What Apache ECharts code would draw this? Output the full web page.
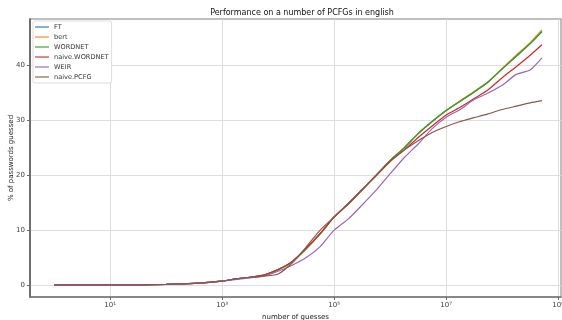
<!DOCTYPE html>
<html>
<head>
<meta charset="utf-8">
<script src="https://cdn.jsdelivr.net/npm/echarts@6/dist/echarts.min.js"></script>
<style>
  html, body { margin: 0; padding: 0; background: #fff; }
  #chart { width: 562px; height: 320px; }
</style>
</head>
<body>
<div id="chart"></div>
<script>
// x values are log10(number of guesses)
let logGuesses = [0, 0.5, 1, 1.5, 2, 2.5, 3, 3.25, 3.5, 3.75, 4, 4.25, 4.5, 4.75, 5, 5.25, 5.5, 5.75, 6, 6.25, 6.5, 6.75, 7, 7.25, 7.5, 7.75, 8, 8.25, 8.5, 8.71];

let ftValues      = [0, 0, 0, 0.02, 0.1, 0.3, 0.7, 1.1, 1.4, 1.8, 2.8, 4.2, 6.6, 9.3, 12.4, 14.8, 17.4, 20.0, 22.7, 25.0, 27.6, 29.8, 31.8, 33.5, 35.2, 37.0, 39.4, 41.7, 44.0, 46.2];
let bertValues    = [0, 0, 0, 0.02, 0.1, 0.3, 0.7, 1.1, 1.4, 1.8, 2.8, 4.2, 6.6, 9.3, 12.4, 14.8, 17.4, 20.0, 22.7, 25.0, 27.6, 29.8, 31.8, 33.6, 35.3, 37.1, 39.5, 41.9, 44.2, 46.5];
let wordnetValues = [0, 0, 0, 0.02, 0.1, 0.3, 0.7, 1.1, 1.4, 1.8, 2.8, 4.2, 6.6, 9.3, 12.4, 14.8, 17.4, 20.0, 22.7, 25.0, 27.6, 29.8, 31.8, 33.5, 35.2, 37.0, 39.4, 41.7, 44.0, 46.2];
let naiveWnValues = [0, 0, 0, 0.02, 0.1, 0.3, 0.7, 1.1, 1.4, 1.8, 2.8, 4.3, 6.7, 9.4, 12.4, 14.7, 17.3, 19.9, 22.5, 24.6, 26.9, 29.0, 31.0, 32.4, 34.0, 35.6, 37.8, 39.8, 41.9, 43.8];
let weirValues    = [0, 0, 0, 0.02, 0.1, 0.3, 0.7, 1.0, 1.3, 1.6, 2.5, 3.6, 5.0, 7.0, 10.0, 12.0, 14.6, 17.3, 20.3, 23.2, 25.7, 28.5, 30.6, 32.0, 33.8, 35.0, 36.4, 38.4, 39.2, 41.4];
let naivePcfgValues = [0, 0, 0, 0.02, 0.1, 0.3, 0.7, 1.1, 1.4, 1.6, 2.0, 4.0, 6.9, 10.0, 12.4, 14.8, 17.4, 20.0, 22.6, 24.6, 26.3, 27.8, 28.9, 29.8, 30.5, 31.2, 32.0, 32.6, 33.2, 33.6];

let seriesNames = ['FT', 'bert', 'WORDNET', 'naive.WORDNET', 'WEIR', 'naive.PCFG'];
let seriesValues = [ftValues, bertValues, wordnetValues, naiveWnValues, weirValues, naivePcfgValues];
let colors = ['#1f77b4', '#ff7f0e', '#2ca02c', '#d62728', '#9467bd', '#8c564b'];

let xTicks = [1, 3, 5, 7, 9];
let yTicks = [0, 10, 20, 30, 40];

let sup = { '1': '¹', '3': '³', '5': '⁵', '7': '⁷', '9': '⁹' };
let font = 'DejaVu Sans';

let option = {
    animation: false,
    color: colors,
    textStyle: { fontFamily: font },
    title: {
        text: 'Performance on a number of PCFGs in english',
        left: 297,
        textAlign: 'center',
        top: 4,
        textStyle: { fontSize: 8, fontWeight: 'normal', color: '#111', fontFamily: font }
    },
    legend: {
        orient: 'vertical',
        left: 33,
        top: 21,
        padding: [2, 3, 2, 2],
        itemGap: 2,
        itemWidth: 14,
        itemHeight: 1.5,
        icon: 'rect',
        backgroundColor: '#fff',
        borderColor: '#ddd',
        borderWidth: 1,
        borderRadius: 2,
        textStyle: { fontSize: 6.6, lineHeight: 8, color: '#333', fontFamily: font, padding: [0, 0, 0, 0] },
        data: seriesNames.map(n => ({ name: n, itemStyle: { opacity: 0.75 } }))
    },
    grid: {
        left: 30,
        right: 1,
        top: 19,
        bottom: 23,
        containLabel: false,
        outerBoundsMode: 'none',
        show: true,
        borderColor: '#aaa',
        borderWidth: 1.5
    },
    xAxis: {
        type: 'value',
        min: -0.43,
        max: 9.05,
        name: 'number of guesses',
        nameLocation: 'middle',
        nameGap: 17,
        nameMoveOverlap: false,
        nameTextStyle: { fontSize: 7, color: '#222' },
        axisLine: { onZero: false, lineStyle: { color: '#777', width: 1.5 } },
        axisTick: { customValues: xTicks, length: 3, lineStyle: { color: '#666' } },
        axisLabel: {
            customValues: xTicks,
            fontSize: 7,
            color: '#444',
            margin: 5,
            formatter: v => '10' + (sup[String(v)] || '')
        },
        splitLine: { show: true, lineStyle: { color: '#ddd', width: 1 } }
    },
    yAxis: {
        type: 'value',
        min: -2.2,
        max: 48.5,
        name: '% of passwords guessed',
        nameLocation: 'middle',
        nameGap: 15,
        nameMoveOverlap: false,
        nameTextStyle: { fontSize: 7, color: '#222' },
        axisLine: { show: true, onZero: false, lineStyle: { color: '#555', width: 1.5 } },
        axisTick: { show: true, customValues: yTicks, length: 3, lineStyle: { color: '#666' } },
        axisLabel: { customValues: yTicks, fontSize: 7, color: '#444', margin: 5 },
        splitLine: { show: true, lineStyle: { color: '#ddd', width: 1 } }
    },
    series: seriesNames.map((name, i) => ({
        name: name,
        type: 'line',
        showSymbol: false,
        smooth: 0.2,
        lineStyle: { width: 1.2 },
        data: logGuesses.map((x, j) => [x, seriesValues[i][j]])
    }))
};

let chart = echarts.init(document.getElementById('chart'), null, { renderer: 'canvas' });
chart.setOption(option);
</script>
</body>
</html>
